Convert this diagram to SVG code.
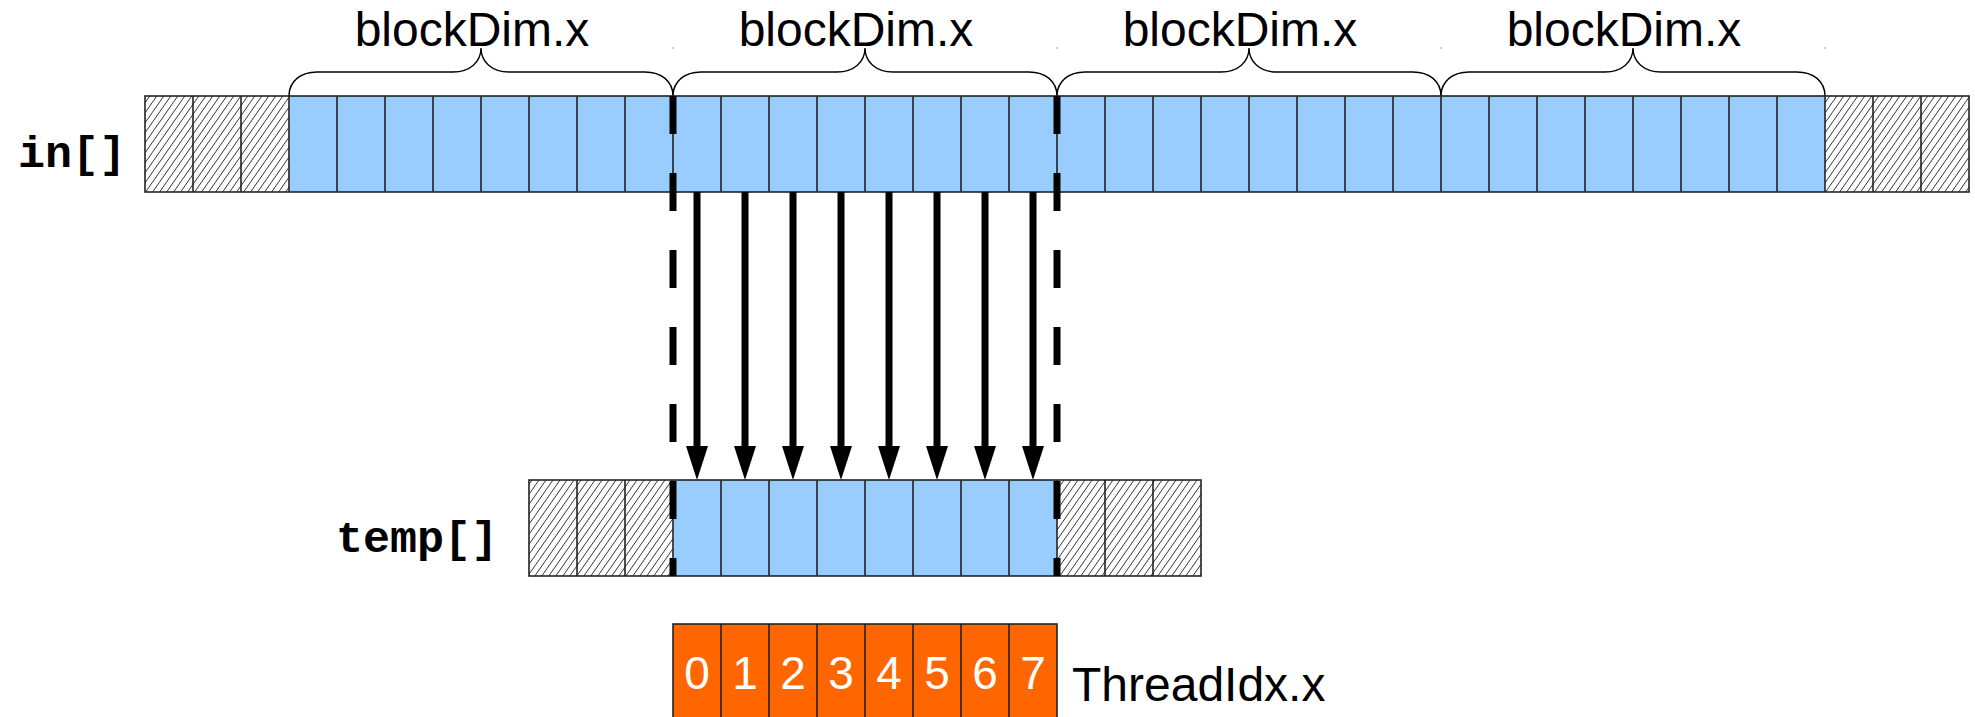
<svg xmlns="http://www.w3.org/2000/svg" width="1975" height="717" viewBox="0 0 1975 717">
  <style>
    .lbl { font-family: "Liberation Sans", Arial, sans-serif; fill: #000; }
    .code { font-family: "Liberation Mono", "Courier New", monospace; font-weight: bold; font-size: 45px; fill: #000; }
    .blue { fill: #99ccff; }
    .hatch { fill: url(#hatch); }
    .orange { fill: #ff6600; }
    .cellline { stroke: #222; stroke-width: 1.6; fill: none; }
    .frame { stroke: #222; stroke-width: 1.6; fill: none; }
    .brace { stroke: #000; stroke-width: 1.4; fill: none; }
    .dash { stroke: #000; stroke-width: 7; stroke-dasharray: 38 39; fill: none; }
    .shaft { stroke: #000; stroke-width: 7; fill: none; }
    .digit { font-family: "Liberation Sans", Arial, sans-serif; font-size: 46px; fill: #fff; text-anchor: middle; }
  </style>
  <defs>
    <pattern id="hatch" patternUnits="userSpaceOnUse" width="7" height="10">
      <rect width="7" height="10" fill="#fff"/>
      <path d="M0,10 L7,0 M-1,1.43 L1,-1.43 M6,11.43 L8,8.57" stroke="#000" stroke-width="0.8"/>
    </pattern>
    <marker id="head" markerUnits="userSpaceOnUse" viewBox="0 0 34 22" markerWidth="34" markerHeight="22" refX="0" refY="11" orient="auto">
      <path d="M0,0 L34,11 L0,22 z" fill="#000"/>
    </marker>
  </defs>
  <rect width="1975" height="717" fill="#fff"/>

  <g id="labels-blockdim">
    <text class="lbl" x="472" y="46" font-size="48" text-anchor="middle">blockDim.x</text>
    <text class="lbl" x="856" y="46" font-size="48" text-anchor="middle">blockDim.x</text>
    <text class="lbl" x="1240" y="46" font-size="48" text-anchor="middle">blockDim.x</text>
    <text class="lbl" x="1624" y="46" font-size="48" text-anchor="middle">blockDim.x</text>
  </g>

  <g id="braces">
    <path class="brace" d="M289,96 C289,81 301,72 317,72 L453,72 C470,72 481,62 481,48 C481,62 492,72 509,72 L645,72 C661,72 673,81 673,96"/>
    <path class="brace" d="M673,96 C673,81 685,72 701,72 L837,72 C854,72 865,62 865,48 C865,62 876,72 893,72 L1029,72 C1045,72 1057,81 1057,96"/>
    <path class="brace" d="M1057,96 C1057,81 1069,72 1085,72 L1221,72 C1238,72 1249,62 1249,48 C1249,62 1260,72 1277,72 L1413,72 C1429,72 1441,81 1441,96"/>
    <path class="brace" d="M1441,96 C1441,81 1453,72 1469,72 L1605,72 C1622,72 1633,62 1633,48 C1633,62 1644,72 1661,72 L1797,72 C1813,72 1825,81 1825,96"/>
    <circle cx="673" cy="48" r="0.8" fill="#999"/>
    <circle cx="1057" cy="48" r="0.8" fill="#999"/>
    <circle cx="1441" cy="48" r="0.8" fill="#999"/>
    <circle cx="1825" cy="48" r="0.8" fill="#999"/>
  </g>

  <g id="in-array">
    <text class="code" x="18" y="167">in[]</text>
    <rect class="hatch" x="145" y="96" width="144" height="96"/>
    <rect class="blue" x="289" y="96" width="1536" height="96"/>
    <rect class="hatch" x="1825" y="96" width="144" height="96"/>
    <path class="cellline" d="M193,96V192 M241,96V192 M289,96V192 M337,96V192 M385,96V192 M433,96V192 M481,96V192 M529,96V192 M577,96V192 M625,96V192 M673,96V192 M721,96V192 M769,96V192 M817,96V192 M865,96V192 M913,96V192 M961,96V192 M1009,96V192 M1057,96V192 M1105,96V192 M1153,96V192 M1201,96V192 M1249,96V192 M1297,96V192 M1345,96V192 M1393,96V192 M1441,96V192 M1489,96V192 M1537,96V192 M1585,96V192 M1633,96V192 M1681,96V192 M1729,96V192 M1777,96V192 M1825,96V192 M1873,96V192 M1921,96V192"/>
    <rect class="frame" x="145" y="96" width="1824" height="96"/>
  </g>

  <g id="temp-array">
    <text class="code" x="336" y="552">temp[]</text>
    <rect class="hatch" x="529" y="480" width="144" height="96"/>
    <rect class="blue" x="673" y="480" width="384" height="96"/>
    <rect class="hatch" x="1057" y="480" width="144" height="96"/>
    <path class="cellline" d="M577,480V576 M625,480V576 M673,480V576 M721,480V576 M769,480V576 M817,480V576 M865,480V576 M913,480V576 M961,480V576 M1009,480V576 M1057,480V576 M1105,480V576 M1153,480V576"/>
    <rect class="frame" x="529" y="480" width="672" height="96"/>
  </g>

  <g id="thread-idx">
    <rect class="orange" x="673" y="624" width="384" height="96"/>
    <path class="cellline" d="M721,624V720 M769,624V720 M817,624V720 M865,624V720 M913,624V720 M961,624V720 M1009,624V720"/>
    <rect class="frame" x="673" y="624" width="384" height="96"/>
    <text class="digit" x="697" y="689">0</text>
    <text class="digit" x="745" y="689">1</text>
    <text class="digit" x="793" y="689">2</text>
    <text class="digit" x="841" y="689">3</text>
    <text class="digit" x="889" y="689">4</text>
    <text class="digit" x="937" y="689">5</text>
    <text class="digit" x="985" y="689">6</text>
    <text class="digit" x="1033" y="689">7</text>
    <text class="lbl" x="1072" y="701" font-size="48">ThreadIdx.x</text>
  </g>

  <g id="connectors">
    <line class="dash" x1="673" y1="96" x2="673" y2="576"/>
    <line class="dash" x1="1057" y1="96" x2="1057" y2="576"/>
    <line class="shaft" x1="697" y1="192" x2="697" y2="446" marker-end="url(#head)"/>
    <line class="shaft" x1="745" y1="192" x2="745" y2="446" marker-end="url(#head)"/>
    <line class="shaft" x1="793" y1="192" x2="793" y2="446" marker-end="url(#head)"/>
    <line class="shaft" x1="841" y1="192" x2="841" y2="446" marker-end="url(#head)"/>
    <line class="shaft" x1="889" y1="192" x2="889" y2="446" marker-end="url(#head)"/>
    <line class="shaft" x1="937" y1="192" x2="937" y2="446" marker-end="url(#head)"/>
    <line class="shaft" x1="985" y1="192" x2="985" y2="446" marker-end="url(#head)"/>
    <line class="shaft" x1="1033" y1="192" x2="1033" y2="446" marker-end="url(#head)"/>
  </g>
</svg>
